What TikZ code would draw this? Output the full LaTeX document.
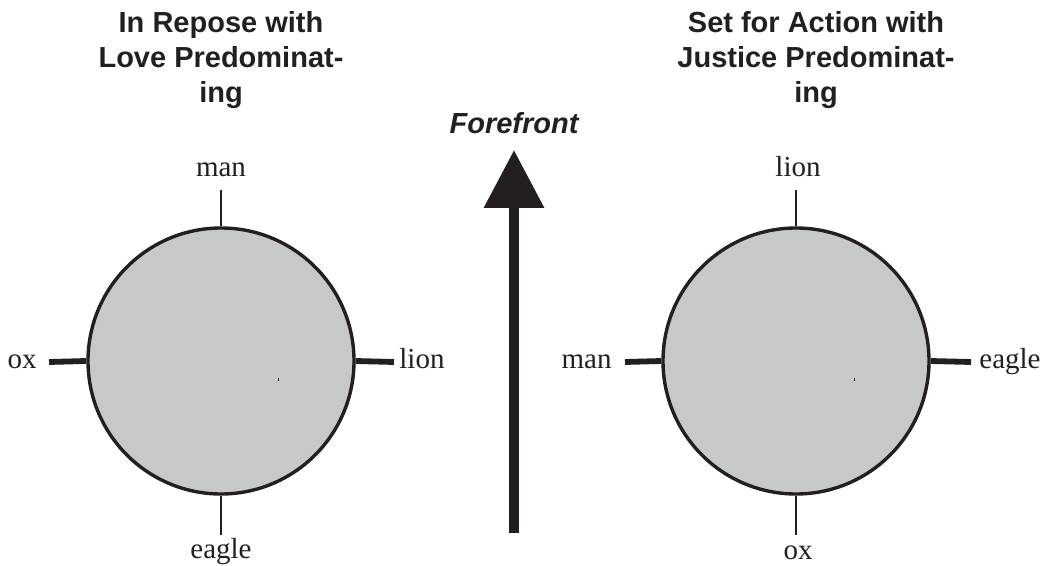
\documentclass[tikz,border=0pt]{standalone}
\usepackage{fontspec}
\setmainfont{Liberation Serif}
\setsansfont{Liberation Sans}
\usetikzlibrary{arrows.meta,positioning}
\definecolor{ink}{RGB}{35,31,32}
\definecolor{discgray}{RGB}{199,200,202}
\begin{document}
\begin{tikzpicture}[x=0.5pt,y=-0.5pt]
    \tikzstyle{heading} = [font=\sffamily\bfseries\fontsize{14.5}{17.5}\selectfont, align=center, text=ink, inner sep=0pt]
    \tikzstyle{beast} = [font=\fontsize{14.5}{17}\selectfont, text=ink, inner sep=0pt]
    \tikzstyle{wheel} = [circle, draw=ink, fill=discgray, line width=1.7pt, minimum size=133pt, inner sep=0pt]
    \tikzstyle{thintick} = [draw=ink, line width=1.4pt]
    \tikzstyle{thicktick} = [draw=ink, line width=2.9pt]
    \useasboundingbox (0,0) rectangle (1042,566);

    % left wheel
    \node (repose) [wheel] at (221,361) {};
    \node (reposetitle) [heading, anchor=base] at (221,103) {In Repose with\\Love Predominat-\\ing};
    \coordinate (rtop) at (221,190);
    \coordinate (rbot) at (221,535);
    \coordinate (rleft) at (49,362);
    \coordinate (rright) at (394,362);
    \node (rman) [beast, anchor=base] at (221,177) {man};
    \node (reagle) [beast, anchor=base] at (221,558) {eagle};
    \node (rox) [beast, anchor=base east] at (37,368) {ox};
    \node (rlion) [beast, anchor=base west] at (399,368) {lion};
    \draw [thintick] (repose.north) -- (rtop);
    \draw [thintick] (repose.south) -- (rbot);
    \draw [thicktick] (repose.west) -- (rleft);
    \draw [thicktick] (repose.east) -- (rright);
    \draw [ink, line width=0.4pt] (278,378) -- (278,381);

    % forefront arrow
    \node (forefront) [heading, font=\sffamily\bfseries\itshape\fontsize{14.5}{17.5}\selectfont, anchor=base] at (514,134) {Forefront};
    \coordinate (tail) at (514,533);
    \coordinate (tip) at (514,150);
    \draw [ink, line width=5pt, -{Triangle[width=29pt,length=29pt]}] (tail) -- (tip);

    % right wheel
    \node (action) [wheel] at (796,361) {};
    \node (actiontitle) [heading, anchor=base] at (816,103) {Set for Action with\\Justice Predominat-\\ing};
    \coordinate (atop) at (796,190);
    \coordinate (abot) at (796,535);
    \coordinate (aleft) at (625,362);
    \coordinate (aright) at (971,362);
    \node (alion) [beast, anchor=base] at (798,177) {lion};
    \node (aox) [beast, anchor=base] at (798,559) {ox};
    \node (aman) [beast, anchor=base east] at (612,368) {man};
    \node (aeagle) [beast, anchor=base west] at (979,368) {eagle};
    \draw [thintick] (action.north) -- (atop);
    \draw [thintick] (action.south) -- (abot);
    \draw [thicktick] (action.west) -- (aleft);
    \draw [thicktick] (action.east) -- (aright);
    \draw [ink, line width=0.4pt] (854,378) -- (854,381);
\end{tikzpicture}
\end{document}
